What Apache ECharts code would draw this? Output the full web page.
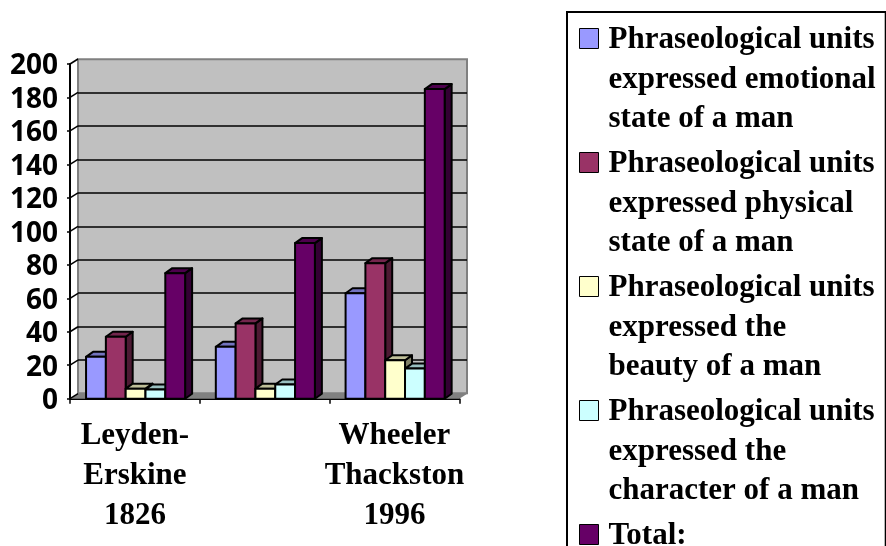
<!DOCTYPE html>
<html>
<head>
<meta charset="utf-8">
<style>
html, body { margin: 0; padding: 0; background: #fff; }
#main { width: 886px; height: 546px; }
</style>
<script src="https://cdn.jsdelivr.net/npm/echarts@6/dist/echarts.min.js"></script>
</head>
<body>
<div id="main"></div>
<script>
var categories = ['Leyden-\nErskine\n1826', '', 'Wheeler\nThackston\n1996'];
var tickValues = [0, 20, 40, 60, 80, 100, 120, 140, 160, 180, 200];

var emotional = [25, 31, 63];
var physical = [37, 45, 81];
var beauty = [6, 6, 23];
var character = [5.5, 8.5, 18];
var total = [75, 93, 185];

var seriesNames = [
    'Phraseological units\nexpressed emotional\nstate of a man',
    'Phraseological units\nexpressed physical\nstate of a man',
    'Phraseological units\nexpressed the\nbeauty of a man',
    'Phraseological units\nexpressed the\ncharacter of a man',
    'Total:'
];
var seriesValues = [emotional, physical, beauty, character, total];

var frontColors = ['#9999FF', '#993366', '#FFFFCC', '#CCFFFF', '#660066'];
var topColors = ['#7373BF', '#73264D', '#BFBF99', '#99BFBF', '#4D004D'];
var sideColors = ['#4D4D80', '#4D1A33', '#808066', '#668080', '#330033'];

// depth of the fake 3d, front plane to back wall
var depthX = 8, depthY = 5;
var barDepthX = 7, barDepthY = 5;

function barRenderer(idx) {
    return function (params, api) {
        var top = api.coord([api.value(0), api.value(1)]);
        var bottom = api.coord([api.value(0), 0]);
        var band = api.size([1, 0])[0];
        var w = band / 6.55;
        var x = top[0] + (idx - 2.5) * w + 0.7;
        var y = top[1], y0 = bottom[1];
        var line = { stroke: '#000', lineWidth: 2, lineJoin: 'round' };
        return {
            type: 'group',
            children: [
                {
                    type: 'polygon',
                    shape: { points: [[x + w, y], [x + w + barDepthX, y - barDepthY], [x + w + barDepthX, y0 - barDepthY], [x + w, y0]] },
                    style: Object.assign({ fill: sideColors[idx] }, line)
                },
                {
                    type: 'polygon',
                    shape: { points: [[x, y], [x + barDepthX, y - barDepthY], [x + w + barDepthX, y - barDepthY], [x + w, y]] },
                    style: Object.assign({ fill: topColors[idx] }, line)
                },
                {
                    type: 'rect',
                    shape: { x: x, y: y, width: w, height: y0 - y },
                    style: Object.assign({ fill: frontColors[idx] }, line)
                }
            ]
        };
    };
}

// slanted stubs joining the front axis ticks to the back wall
function stubRenderer(params, api) {
    var p = api.coord([0, api.value(0)]);
    var x = params.coordSys.x;
    return {
        type: 'line',
        shape: { x1: x, y1: p[1], x2: x + depthX, y2: p[1] - depthY },
        style: { stroke: '#000', lineWidth: 1.5 }
    };
}

function floorRenderer(params, api) {
    var c = params.coordSys;
    var y = c.y + c.height;
    return {
        type: 'polygon',
        shape: { points: [[c.x, y], [c.x + depthX, y - depthY], [c.x + c.width + depthX, y - depthY], [c.x + c.width, y]] },
        style: { fill: '#808080' }
    };
}

var series = [
    {
        name: 'floor',
        type: 'custom',
        xAxisIndex: 0,
        yAxisIndex: 0,
        silent: true,
        z: 1,
        data: [[0, 0]],
        renderItem: floorRenderer
    },
    {
        name: 'stubs',
        type: 'custom',
        xAxisIndex: 0,
        yAxisIndex: 0,
        silent: true,
        z: 1,
        encode: { y: 0 },
        data: tickValues.map(function (v) { return [v]; }),
        renderItem: stubRenderer
    }
];
seriesNames.forEach(function (name, i) {
    series.push({
        name: name,
        type: 'custom',
        xAxisIndex: 0,
        yAxisIndex: 0,
        z: 2 + i,
        itemStyle: { color: frontColors[i] },
        encode: { x: 0, y: 1 },
        data: seriesValues[i].map(function (v, c) { return [c, v]; }),
        renderItem: barRenderer(i)
    });
});

var legendIcon = 'path://M0,8H19V28H0Z M24,118L24,118 M0,0L0,0';

var option = {
    backgroundColor: '#fff',
    animation: false,
    legend: {
        show: true,
        orient: 'vertical',
        left: 567,
        top: 12,
        height: 640,
        padding: [8, 10, 6, 12],
        itemGap: 5,
        itemWidth: 24,
        itemHeight: 118,
        borderColor: '#000',
        borderWidth: 2,
        selectedMode: false,
        icon: legendIcon,
        itemStyle: { borderColor: '#000', borderWidth: 1 },
        data: seriesNames,
        formatter: function (name) {
            return name === 'Total:' ? name + '\n\n' : name;
        },
        textStyle: {
            fontFamily: 'Liberation Serif',
            fontWeight: 'bold',
            fontSize: 31,
            lineHeight: 39.5,
            color: '#000'
        }
    },
    grid: [
        { left: 70, top: 64, width: 389.3, height: 334.7, z: 1 },
        {
            left: 78, top: 59.3, width: 389, height: 334,
            show: true, backgroundColor: '#C0C0C0', borderColor: '#808080', borderWidth: 2, z: 0
        }
    ],
    xAxis: [
        {
            type: 'category',
            gridIndex: 0,
            data: categories,
            axisLine: { lineStyle: { color: '#000', width: 2 } },
            axisTick: { show: true, length: 5, lineStyle: { color: '#000', width: 1.5 } },
            axisLabel: {
                interval: 0,
                margin: 17,
                fontFamily: 'Liberation Serif',
                fontWeight: 'bold',
                fontSize: 31,
                lineHeight: 40,
                color: '#000'
            }
        },
        { type: 'category', gridIndex: 1, data: categories, show: false }
    ],
    yAxis: [
        {
            type: 'value',
            gridIndex: 0,
            min: 0,
            max: 200,
            interval: 20,
            axisLine: { show: true, lineStyle: { color: '#000', width: 2 } },
            axisTick: { show: true, length: 3, lineStyle: { color: '#000', width: 1.5 } },
            splitLine: { show: false },
            axisLabel: {
                margin: 12,
                verticalAlign: 'top',
                lineHeight: 5,
                fontFamily: 'Open Sans',
                fontWeight: 'bold',
                fontSize: 28,
                color: '#000'
            }
        },
        {
            type: 'value',
            gridIndex: 1,
            min: 0,
            max: 200,
            interval: 20,
            axisLine: { show: false },
            axisTick: { show: false },
            axisLabel: { show: false },
            splitLine: { show: true, showMinLine: false, showMaxLine: false, lineStyle: { color: '#000', width: 1.5 } }
        }
    ],
    series: series
};

var myChart = echarts.init(document.getElementById('main'));
myChart.setOption(option);
</script>
</body>
</html>
